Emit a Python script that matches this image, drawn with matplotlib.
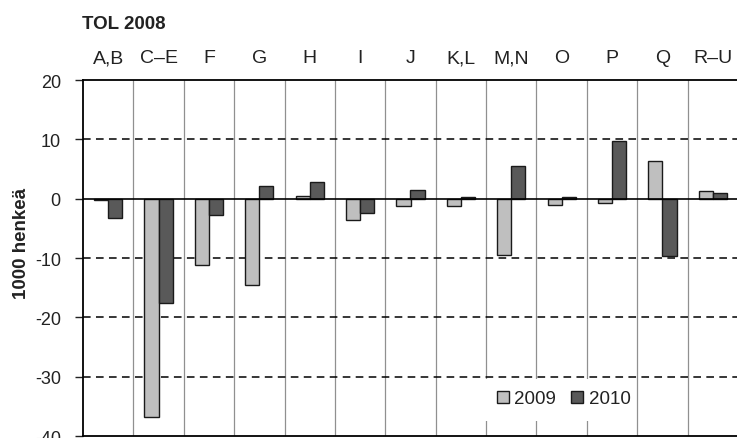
import matplotlib
matplotlib.use("Agg")
import matplotlib.pyplot as plt
import numpy as np
from matplotlib.patches import Rectangle

plt.rcParams['font.family'] = ['Liberation Sans', 'DejaVu Sans']
plt.rcParams['axes.unicode_minus'] = False

categories = ['A,B', 'C–E', 'F', 'G', 'H', 'I', 'J', 'K,L', 'M,N', 'O', 'P', 'Q', 'R–U']
v2009 = [-0.3, -36.8, -11.1, -14.6, 0.5, -3.6, -1.3, -1.3, -9.5, -1.1, -0.8, 6.3, 1.3]
v2010 = [-3.3, -17.6, -2.8, 2.1, 2.8, -2.4, 1.4, 0.3, 5.5, 0.3, 9.8, -9.6, 0.9]
series_names = ['2009', '2010']
yticks = [-40, -30, -20, -10, 0, 10, 20]
title = 'TOL 2008'
ylabel = '1000 henkeä'

W, H = 737, 439
fig = plt.figure(figsize=(W / 100, H / 100), dpi=100)
ax_left, ax_top, ax_bottom, ax_right = 83, 81, 437, 738
ax = fig.add_axes([ax_left / W, 1 - ax_bottom / H, (ax_right - ax_left) / W, (ax_bottom - ax_top) / H])

x = np.arange(len(categories))
bw = 0.28
ax.bar(x - bw / 2, v2009, bw, color='#bfbfbf', edgecolor='#1a1a1a', linewidth=1.0, zorder=3, label=series_names[0])
ax.bar(x + bw / 2, v2010, bw, color='#595959', edgecolor='#1a1a1a', linewidth=1.0, zorder=3, label=series_names[1])

ax.set_xlim(-0.5, len(categories) - 0.5)
ax.set_ylim(-40, 20)

# y axis
ax.set_yticks(yticks)
ax.set_yticklabels([str(t) for t in yticks])
ax.tick_params(axis='y', length=6, width=1, direction='out', labelsize=13, pad=10, colors='#222222')
for t in yticks:
    if t == 0:
        ax.axhline(0, color='black', lw=1.2, zorder=4)
    elif -40 < t < 20:
        ax.axhline(t, color='black', lw=1.1, ls=(0, (5, 3.5)), zorder=2.7)

# x axis categories on top
ax.xaxis.tick_top()
ax.set_xticks(x)
ax.set_xticklabels(categories)
ax.tick_params(axis='x', which='major', length=0, labelsize=14, pad=10, colors='#222222')
ax.set_xticks(x[:-1] + 0.5, minor=True)
ax.tick_params(axis='x', which='minor', length=0)
ax.grid(axis='x', which='minor', color='#909090', lw=0.9, zorder=1)

for s in ['top', 'bottom', 'left']:
    ax.spines[s].set_color('black')
    ax.spines[s].set_linewidth(1.3)
ax.spines['right'].set_visible(False)

ax.set_ylabel(ylabel, fontsize=13.5, fontweight='bold', color='#222222')
ax.yaxis.set_label_coords(-0.081, 0.545)

# white legend background
ax.add_patch(Rectangle((0.59, 0.042), 0.254, 0.118, transform=ax.transAxes,
                       facecolor='white', edgecolor='none', zorder=2.5))
leg = ax.legend(loc='center', bbox_to_anchor=(0.734, 0.104), ncol=2, frameon=False,
                fontsize=13.5, handlelength=0.65, handleheight=0.65, handletextpad=0.3,
                columnspacing=0.8, borderpad=0.2)
for t in leg.get_texts():
    t.set_color('#222222')

fig.text(82 / W, 1 - 29.3 / H, title, fontsize=13.5, fontweight='bold', color='#222222',
         ha='left', va='baseline')

fig.savefig('out.png', dpi=100)
